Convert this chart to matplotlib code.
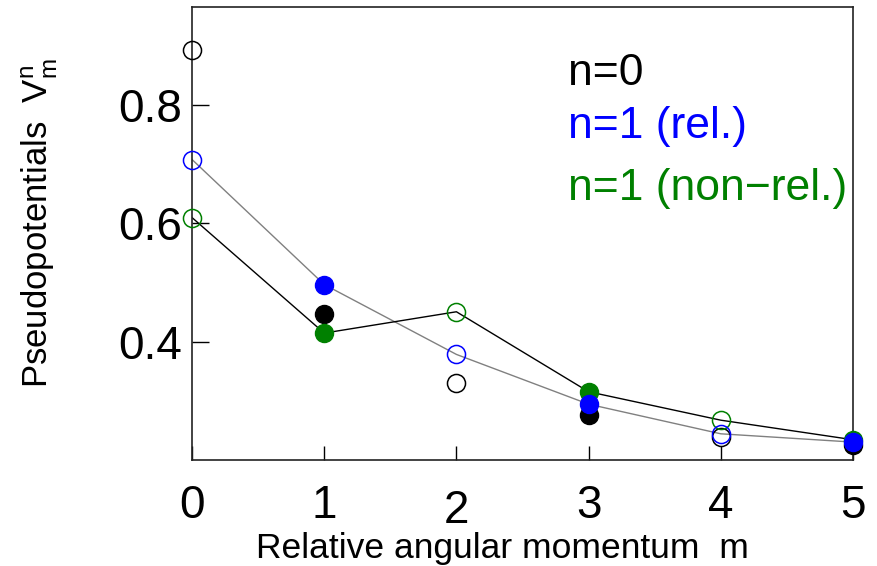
import matplotlib
matplotlib.use("Agg")
import matplotlib.pyplot as plt

plt.rcParams['font.family'] = ['Liberation Sans', 'DejaVu Sans']
plt.rcParams['mathtext.fontset'] = 'custom'
plt.rcParams['mathtext.rm'] = 'Liberation Sans'
plt.rcParams['mathtext.it'] = 'Liberation Sans'

# relative angular momentum m
m = [0, 1, 2, 3, 4, 5]

# pseudopotentials
v_n0 = [0.893, 0.448, 0.331, 0.276, 0.240, 0.226]
v_n1_rel = [0.708, 0.497, 0.379, 0.295, 0.245, 0.231]
v_n1_nonrel = [0.610, 0.415, 0.451, 0.316, 0.268, 0.235]

# odd m are filled markers, even m are open ones
filled = [False, True, False, True, False, True]

xticks = [0, 1, 2, 3, 4, 5]
yticks = [0.4, 0.6, 0.8]
ytick_labels = ["0.4", "0.6", "0.8"]

fig = plt.figure(figsize=(8.78, 5.66), dpi=100)
ax = fig.add_axes([0.2187, 0.1873, 0.7528, 0.8003])

ax.plot(m, v_n1_rel, color='gray', lw=1.0, zorder=2)
ax.plot(m, v_n1_nonrel, color='black', lw=1.0, zorder=2)

for vals, col in [(v_n0, 'black'), (v_n1_nonrel, 'green'), (v_n1_rel, 'blue')]:
    xf = [x for x, f in zip(m, filled) if f]
    yf = [y for y, f in zip(vals, filled) if f]
    xo = [x for x, f in zip(m, filled) if not f]
    yo = [y for y, f in zip(vals, filled) if not f]
    ax.plot(xf, yf, 'o', ms=13, color=col, mec=col, clip_on=False, zorder=3)
    ax.plot(xo, yo, 'o', ms=13, mfc='none', mec=col, mew=1.1, clip_on=False, zorder=3)

ax.set_xlim(0, 5)
ax.set_ylim(0.2008, 0.9654)
ax.set_xticks(xticks)
ax.set_yticks(yticks)
ax.set_yticklabels(ytick_labels)

ax.tick_params(axis='both', direction='in', labelsize=33, width=1.0)
ax.tick_params(axis='y', length=12, pad=7)
ax.tick_params(axis='x', length=10, pad=17)
# the "2" sits a little lower than the other labels
ax.xaxis.get_major_ticks()[2].set_pad(21)
for sp in ax.spines.values():
    sp.set_linewidth(1.2)
    sp.set_color('#222222')

ax.set_xlabel("Relative angular momentum  m", fontsize=25.5)
ax.xaxis.set_label_coords(0.469, -0.158)
ax.set_ylabel(r"Pseudopotentials  $\mathrm{V_m^n}$", fontsize=25)
ax.yaxis.set_label_coords(-0.20, 0.523)

ax.text(0.569, 0.828, "n=0", color='black', fontsize=32, transform=ax.transAxes, va='baseline')
ax.text(0.569, 0.711, "n=1 (rel.)", color='blue', fontsize=32, transform=ax.transAxes, va='baseline')
ax.text(0.569, 0.574, "n=1 (non\u2212rel.)", color='green', fontsize=32, transform=ax.transAxes, va='baseline')

fig.savefig("out.png", dpi=100)
